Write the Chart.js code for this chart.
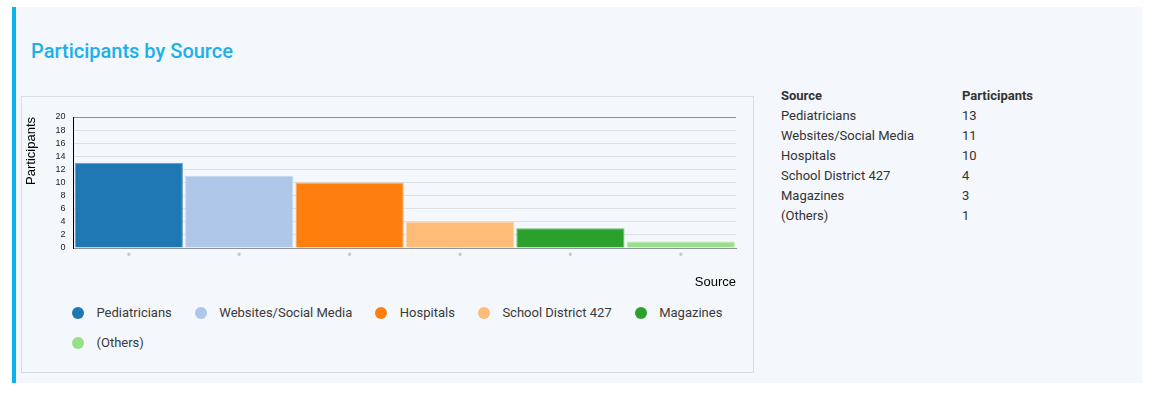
<!DOCTYPE html>
<html>
<head>
<meta charset="utf-8">
<script src="https://cdn.jsdelivr.net/npm/chart.js@4.4.1/dist/chart.umd.min.js"></script>
<style>
  body { margin: 0; background: #fff; font-family: Roboto, "Noto Sans", sans-serif; }
  #panel { position: absolute; left: 12px; top: 7px; width: 1130px; height: 376px;
           background: #f4f7fb; border-left: 4px solid #0cb2ee; box-sizing: border-box; }
  #title { position: absolute; left: 31px; top: 39px; line-height: 24px; font-size: 20px;
           font-weight: 500; color: #1bb0ea; margin: 0; }
  #chartBox { position: absolute; left: 21px; top: 96px; width: 733px; height: 277px;
              border: 1px solid #d9dcdf; box-sizing: border-box; }
  #chartWrap { position: absolute; left: 0; top: 0; width: 731px; height: 196px; }
  #legend { position: absolute; left: 50px; top: 208px; width: 710px; display: flex;
            flex-wrap: wrap; row-gap: 14px; font-size: 13px; color: #3a3a3a; }
  #legend .item { display: flex; align-items: center; line-height: 16px; margin-right: 23px; }
  #legend .dot { width: 12px; height: 12px; border-radius: 50%; margin-right: 12.5px; }
  #table { position: absolute; left: 781px; top: 86px; border-collapse: collapse;
           font-size: 13px; color: #333; }
  #table td, #table th { padding: 0; height: 20px; line-height: 20px; text-align: left; }
  #table th { font-weight: 700; }
  #table .c1 { width: 181px; }
</style>
</head>
<body>
<div id="panel"></div>
<h2 id="title">Participants by Source</h2>
<div id="chartBox">
  <div id="chartWrap"><canvas id="myChart"></canvas></div>
  <div id="legend"></div>
</div>
<table id="table"></table>

<script>
const sources = ['Pediatricians', 'Websites/Social Media', 'Hospitals', 'School District 427', 'Magazines', '(Others)'];
const participants = [13, 11, 10, 4, 3, 1];
const yTicks = [0, 2, 4, 6, 8, 10, 12, 14, 16, 18, 20];

const barColors = ['#1f77b4', '#aec7e8', '#ff7f0e', '#ffbb78', '#2ca02c', '#98df8a'];
const barBorders = ['#5f9dcb', '#c8daf0', '#ffa95a', '#ffd1a5', '#69bd69', '#b9eab0'];

document.addEventListener('DOMContentLoaded', () => {
    const ctx = document.getElementById('myChart').getContext('2d');

    new Chart(ctx, {
        type: 'bar',
        data: {
            labels: sources,
            datasets: [{
                label: 'Participants',
                data: participants,
                backgroundColor: barColors,
                borderColor: barBorders,
                borderWidth: 1,
                barPercentage: 0.98,
                categoryPercentage: 1
            }]
        },
        options: {
            responsive: true,
            maintainAspectRatio: false,
            animation: false,
            layout: { padding: { left: 2, top: 20, right: 17, bottom: 3 } },
            plugins: {
                legend: { display: false },
                tooltip: { enabled: true }
            },
            scales: {
                x: {
                    grid: { display: false, drawTicks: false },
                    border: { color: '#8f9297' },
                    ticks: {
                        padding: 0,
                        color: '#c9cbce',
                        font: { family: 'Arial', size: 12 },
                        callback: () => '\u2022'
                    },
                    title: {
                        display: true,
                        text: 'Source',
                        align: 'end',
                        color: '#000',
                        font: { family: 'Arial', size: 13 },
                        padding: { top: 12, bottom: 0 }
                    }
                },
                y: {
                    min: yTicks[0],
                    max: yTicks[yTicks.length - 1],
                    afterBuildTicks: (axis) => { axis.ticks = yTicks.map(v => ({ value: v })); },
                    grid: {
                        drawTicks: false,
                        color: (c) => c.tick && c.tick.value === 20 ? '#8c8f93' : '#dcdfe3'
                    },
                    border: { color: '#000' },
                    ticks: {
                        autoSkip: false,
                        padding: 8,
                        color: '#222',
                        font: { family: 'Arial', size: 9 }
                    },
                    title: {
                        display: true,
                        text: 'Participants',
                        align: 'end',
                        color: '#000',
                        font: { family: 'Arial', size: 13 },
                        padding: { top: 0, bottom: 8 }
                    }
                }
            }
        }
    });

    // legend
    const legend = document.getElementById('legend');
    sources.forEach((name, i) => {
        const item = document.createElement('div');
        item.className = 'item';
        item.innerHTML = '<span class="dot" style="background:' + barColors[i] + '"></span><span>' + name + '</span>';
        legend.appendChild(item);
    });

    // table on the right
    const table = document.getElementById('table');
    let html = '<tr><th class="c1">Source</th><th>Participants</th></tr>';
    sources.forEach((name, i) => {
        html += '<tr><td class="c1">' + name + '</td><td>' + participants[i] + '</td></tr>';
    });
    table.innerHTML = html;
});
</script>
</body>
</html>
